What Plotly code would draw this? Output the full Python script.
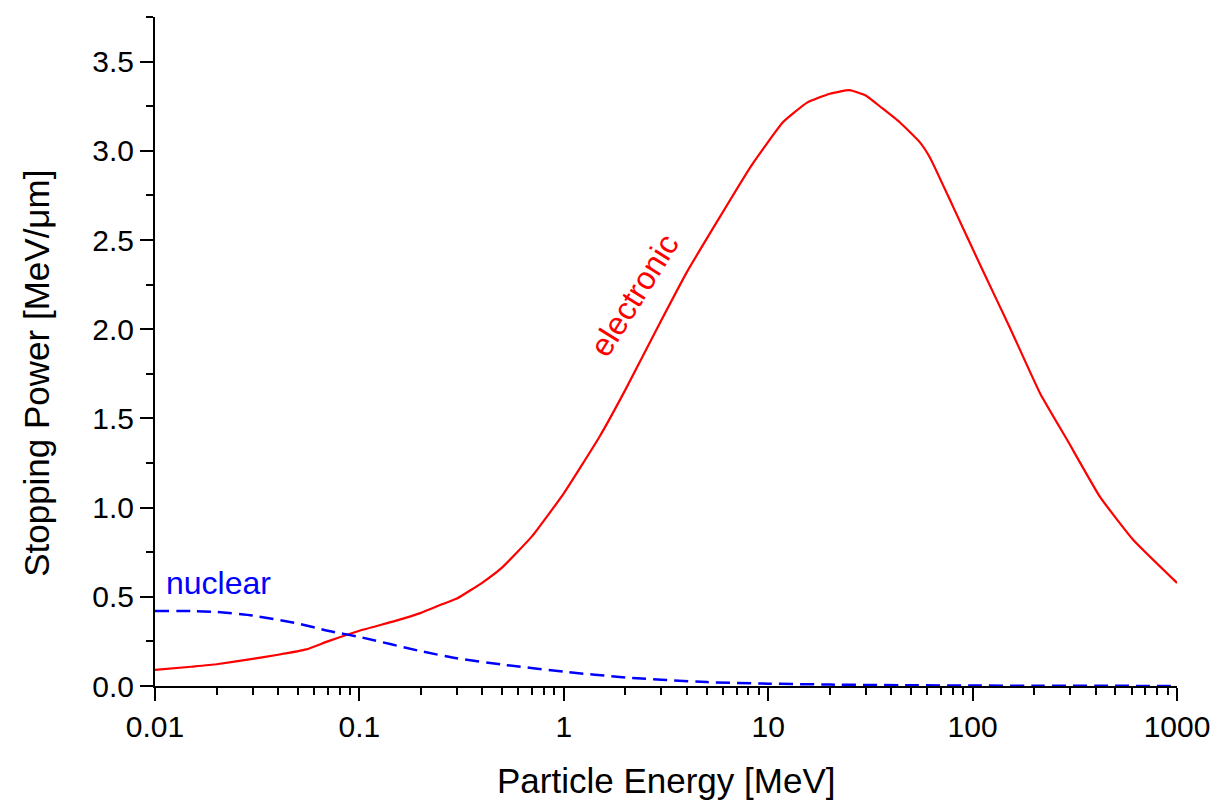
import plotly.graph_objects as go

# Electronic stopping power
elec_energy = [0.01, 0.015, 0.02, 0.03, 0.04, 0.055, 0.07, 0.1, 0.15, 0.2, 0.25, 0.3, 0.4, 0.5, 0.7,
               1.0, 1.5, 2.0, 3.0, 4.0, 5.6, 8.2, 11.8, 15.5, 20, 25, 30, 36, 44, 55, 62, 80, 112,
               152, 214, 290, 420, 610, 1000]
elec_power = [0.09, 0.108, 0.122, 0.152, 0.175, 0.205, 0.25, 0.31, 0.365, 0.41, 0.455, 0.49, 0.58, 0.665, 0.84,
              1.08, 1.40, 1.66, 2.05, 2.32, 2.60, 2.91, 3.16, 3.27, 3.32, 3.34, 3.31, 3.24, 3.16, 3.05, 2.96, 2.69, 2.33,
              2.01, 1.64, 1.38, 1.06, 0.82, 0.578]

# Nuclear stopping power
nuc_energy = [0.01, 0.015, 0.02, 0.03, 0.05, 0.07, 0.1, 0.2, 0.3, 0.5, 1, 2, 5, 10, 20, 50, 100, 200, 500, 1000]
nuc_power = [0.42, 0.42, 0.415, 0.395, 0.35, 0.31, 0.275, 0.195, 0.155, 0.12, 0.08, 0.048, 0.022, 0.013,
             0.008, 0.004, 0.0025, 0.0015, 0.0008, 0.0005]

x_ticks = [0.01, 0.1, 1, 10, 100, 1000]
x_ticklabels = ["0.01", "0.1", "1", "10", "100", "1000"]
y_ticks = [0.0, 0.5, 1.0, 1.5, 2.0, 2.5, 3.0, 3.5]
y_ticklabels = ["0.0", "0.5", "1.0", "1.5", "2.0", "2.5", "3.0", "3.5"]
x_minor = [m * 10 ** e for e in range(-2, 3) for m in range(2, 10)]

x_title = "Particle Energy [MeV]"
y_title = "Stopping Power [MeV/μm]"

FONT = "Liberation Sans, Arial, sans-serif"

fig = go.Figure()
fig.add_trace(go.Scatter(x=elec_energy, y=elec_power, mode="lines",
                         line=dict(color="#ff0000", width=2.2, shape="spline", smoothing=0.4),
                         name="electronic"))
fig.add_trace(go.Scatter(x=nuc_energy, y=nuc_power, mode="lines",
                         line=dict(color="#0000ff", width=2.5, dash="14px,7px", shape="spline", smoothing=0.5),
                         name="nuclear"))

fig.add_annotation(x=-1.955, y=0.578, xref="x", yref="y", text="nuclear", showarrow=False,
                   xanchor="left", yanchor="middle", font=dict(family=FONT, size=32, color="#0000ff"))
fig.add_annotation(x=0.346, y=2.19, xref="x", yref="y", text="electronic", showarrow=False,
                   textangle=-58, font=dict(family=FONT, size=32, color="#ff0000"))

# axis titles
fig.add_annotation(x=0.5, y=-0.141, xref="paper", yref="paper", text=x_title, showarrow=False,
                   xanchor="center", yanchor="middle", font=dict(family=FONT, size=35, color="black"))
fig.add_annotation(x=-0.1155, y=0.468, xref="paper", yref="paper", text=y_title, showarrow=False,
                   textangle=-90, xanchor="center", yanchor="middle", font=dict(family=FONT, size=35, color="black"))

fig.update_layout(
    width=1212, height=796,
    margin=dict(l=147, r=43, t=9, b=118, autoexpand=False),
    paper_bgcolor="white", plot_bgcolor="white",
    showlegend=False,
    font=dict(family=FONT, size=30, color="black"),
)
fig.update_xaxes(
    type="log", range=[-2, 3],
    tickvals=x_ticks, ticktext=x_ticklabels,
    showline=True, linecolor="black", linewidth=2,
    ticks="outside", ticklen=13, tickwidth=2, tickcolor="black",
    minor=dict(tickvals=x_minor, ticks="outside", ticklen=7, tickwidth=2, tickcolor="black", showgrid=False),
    showgrid=False, zeroline=False, automargin=False,
    tickfont=dict(family=FONT, size=30, color="black"),
)
fig.update_yaxes(
    range=[0, 3.75],
    tickvals=y_ticks, ticktext=y_ticklabels,
    showline=True, linecolor="black", linewidth=2,
    ticks="outside", ticklen=13, tickwidth=2, tickcolor="black",
    minor=dict(dtick=0.25, tick0=0, ticks="outside", ticklen=7, tickwidth=2, tickcolor="black", showgrid=False),
    showgrid=False, zeroline=False, automargin=False,
    tickfont=dict(family=FONT, size=30, color="black"),
)

fig.write_html("out.html")
